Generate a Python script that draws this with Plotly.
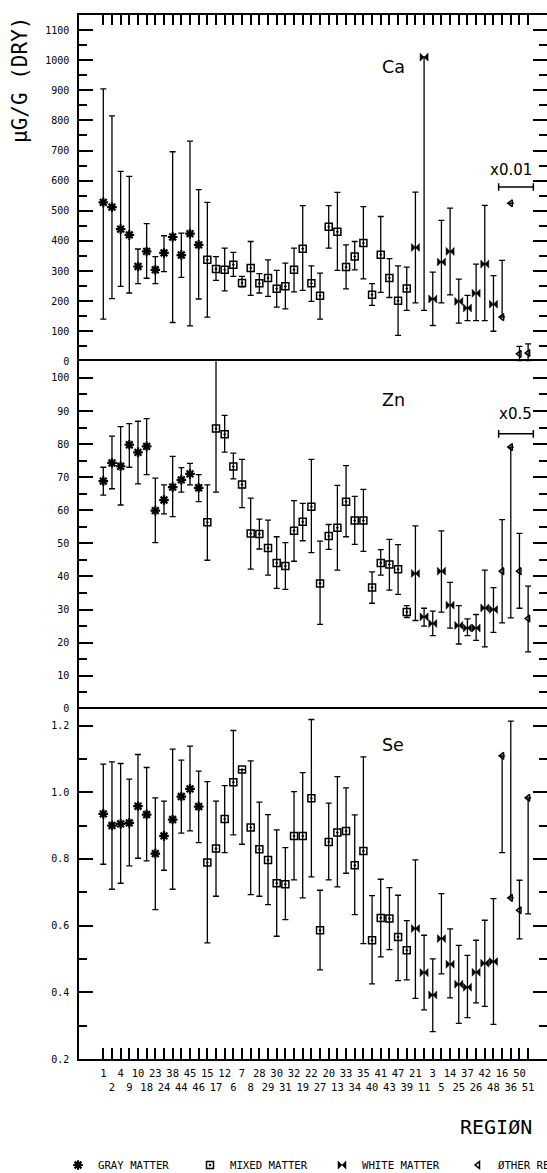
import plotly.graph_objects as go
from plotly.subplots import make_subplots

# ---------------- data ----------------
regions = [1, 2, 4, 9, 10, 18, 23, 24, 38, 44, 45, 46,
           15, 17, 12, 6, 7, 8, 28, 29, 30, 31, 32, 19, 22, 27, 20, 13, 33, 34, 35, 40, 41, 43, 47, 39,
           21, 11, 3, 5, 14, 25, 37, 26, 42, 48,
           16, 36, 50, 51]
group_names = ["GRAY MATTER", "MIXED MATTER", "WHITE MATTER", "ØTHER REGIØNS"]
group_sizes = [12, 24, 10, 4]

ca_val = [528, 512, 439, 420, 315, 365, 304, 360, 413, 353, 424, 387,
          337, 307, 304, 321, 260, 310, 259, 277, 241, 249, 304, 374, 259, 218, 447, 430, 313, 348, 393, 221, 354, 277, 201, 242,
          378, 1010, 207, 330, 365, 199, 177, 226, 323, 190,
          147, 525, 25, 28]
ca_lo = [140, 208, 249, 227, 258, 276, 258, 298, 129, 279, 118, 207,
         147, 269, 234, 282, 247, 219, 227, 216, 180, 174, 231, 236, 199, 140, 376, 302, 241, 304, 274, 186, 229, 212, 86, 169,
         194, 169, 119, 194, 221, 127, 135, 135, 135, 100,
         147, 525, 0, 0]
ca_hi = [905, 815, 631, 614, 373, 457, 348, 417, 696, 426, 731, 570,
         528, 348, 376, 362, 282, 398, 291, 337, 302, 326, 376, 517, 317, 293, 517, 561, 387, 398, 514, 258, 481, 341, 317, 313,
         562, 1010, 296, 468, 509, 273, 219, 323, 518, 285,
         335, 525, 50, 58]

zn_val = [68.8, 74.3, 73.3, 79.8, 77.5, 79.3, 59.9, 63.1, 67.0, 69.2, 71.0, 66.8,
          56.4, 84.7, 83.0, 73.2, 67.8, 53.0, 52.8, 48.6, 44.1, 43.2, 53.8, 56.5, 61.1, 37.9, 52.2, 54.7, 62.6, 56.9, 56.9, 36.7, 44.1, 43.6, 42.2, 29.3,
          40.9, 27.8, 25.8, 41.6, 31.3, 25.2, 24.4, 24.4, 30.5, 30.0,
          41.6, 79.1, 41.6, 27.3]
zn_lo = [64.6, 66.5, 61.6, 73.0, 68.0, 70.8, 50.2, 58.9, 58.1, 65.5, 67.7, 62.6,
         44.9, 65.5, 77.6, 69.5, 60.8, 42.2, 48.3, 40.4, 36.4, 36.1, 44.6, 50.8, 47.2, 25.5, 48.2, 41.9, 52.0, 49.7, 47.6, 31.9, 40.4, 35.9, 34.6, 27.6,
         26.7, 25.0, 22.1, 29.2, 24.4, 19.6, 22.1, 20.7, 18.7, 23.1,
         26.0, 27.5, 30.4, 17.2]
zn_hi = [73.0, 82.4, 85.3, 86.2, 86.9, 87.7, 69.7, 67.7, 76.3, 72.9, 74.2, 70.8,
         67.7, 106.0, 88.7, 77.3, 75.4, 63.7, 57.3, 57.0, 52.0, 50.2, 62.9, 62.1, 75.4, 50.7, 55.7, 67.5, 73.5, 64.2, 66.3, 41.4, 48.1, 51.2, 49.6, 31.2,
         55.3, 30.4, 29.5, 53.8, 38.2, 31.2, 27.2, 28.5, 41.9, 36.6,
         57.2, 79.1, 53.0, 37.1]

se_val = [0.935, 0.900, 0.905, 0.908, 0.958, 0.933, 0.816, 0.869, 0.918, 0.987, 1.010, 0.957,
          0.789, 0.831, 0.920, 1.030, 1.068, 0.894, 0.829, 0.797, 0.727, 0.724, 0.869, 0.869, 0.982, 0.586, 0.851, 0.879, 0.884, 0.781, 0.824, 0.556, 0.623, 0.621, 0.566, 0.526,
          0.591, 0.459, 0.392, 0.561, 0.484, 0.424, 0.415, 0.460, 0.487, 0.492,
          1.109, 0.683, 0.646, 0.983]
se_lo = [0.784, 0.709, 0.727, 0.779, 0.802, 0.794, 0.648, 0.766, 0.709, 0.877, 0.884, 0.849,
         0.548, 0.688, 0.819, 0.872, 0.844, 0.693, 0.688, 0.663, 0.568, 0.618, 0.737, 0.683, 0.746, 0.467, 0.737, 0.716, 0.757, 0.633, 0.546, 0.425, 0.506, 0.528, 0.435, 0.437,
         0.382, 0.347, 0.282, 0.455, 0.383, 0.307, 0.324, 0.368, 0.358, 0.304,
         0.819, 0.683, 0.560, 0.635]
se_hi = [1.084, 1.091, 1.086, 1.039, 1.113, 1.074, 0.983, 0.973, 1.129, 1.096, 1.138, 1.063,
         1.032, 0.973, 1.020, 1.185, 1.068, 1.094, 0.970, 0.933, 0.887, 0.834, 1.002, 1.059, 1.218, 0.706, 0.967, 1.047, 1.013, 0.932, 1.106, 0.690, 0.739, 0.714, 0.691, 0.615,
         0.797, 0.571, 0.500, 0.696, 0.590, 0.541, 0.511, 0.556, 0.616, 0.681,
         1.109, 1.213, 0.736, 0.983]

elements = ["Ca", "Zn", "Se"]
y_ranges = [[0, 1150], [0, 105], [0.2, 1.25]]
y_dticks = [100, 10, 0.2]
y_minor = [50, 5, 0.1]
y_formats = ["d", "d", ".1f"]

# scale-bar notes (element, label, bar value, label value)
scale_notes = [("Ca", "x0.01", 579, 637), ("Zn", "x0.5", 83.1, 89.0)]
label_values = [976, 93.4, 1.141]

# ---------------- styling ----------------
FONT = "DejaVu Sans Mono"
BLACK = "black"
symbols = {
    "GRAY MATTER": dict(symbol="asterisk-open", size=8, color=BLACK, line=dict(width=2.2, color=BLACK)),
    "MIXED MATTER": dict(symbol="square-open-dot", size=7, color=BLACK, line=dict(width=1.5, color=BLACK)),
    "WHITE MATTER": dict(symbol="bowtie", size=8, color=BLACK, line=dict(width=0.5, color=BLACK)),
    "ØTHER REGIØNS": dict(symbol="triangle-left-open", size=6, color=BLACK, line=dict(width=1.5, color=BLACK)),
}
legend_of = {"GRAY MATTER": "legend", "MIXED MATTER": "legend",
             "WHITE MATTER": "legend", "ØTHER REGIØNS": "legend2"}

W, H = 547, 1173
ML, MT, MB = 79, 15, 114
PW, PH = W - ML, H - MT - MB
xcats = [str(r) for r in regions]
STEP_FIRST = 103.3
STEP = 8.67
x_range = [(ML - STEP_FIRST) / STEP, (W - STEP_FIRST) / STEP]

fig = make_subplots(rows=3, cols=1, shared_xaxes=True, vertical_spacing=0,
                    row_heights=[346.2, 347.3, 350])

series = [(ca_val, ca_lo, ca_hi), (zn_val, zn_lo, zn_hi), (se_val, se_lo, se_hi)]

for row, (vals, los, his) in enumerate(series, start=1):
    start = 0
    for gname, gsize in zip(group_names, group_sizes):
        sl = slice(start, start + gsize)
        start += gsize
        v = vals[sl]
        up = [h - a for h, a in zip(his[sl], v)]
        dn = [a - l for a, l in zip(v, los[sl])]
        fig.add_trace(go.Scatter(
            x=xcats[sl], y=v, mode="markers", name=gname,
            legendgroup=gname, showlegend=(row == 1), legend=legend_of[gname],
            marker=symbols[gname],
            error_y=dict(type="data", symmetric=False, array=up, arrayminus=dn,
                         color=BLACK, thickness=1.3, width=3),
        ), row=row, col=1)

# y axes
for i in range(3):
    fig.update_yaxes(
        range=y_ranges[i], dtick=y_dticks[i], tick0=y_ranges[i][0] if i == 2 else 0,
        tickformat=y_formats[i],
        showline=True, linecolor=BLACK, linewidth=1.5, mirror="ticks",
        ticks="inside", ticklen=14, tickwidth=1.5, tickcolor=BLACK,
        minor=dict(ticks="inside", ticklen=8, dtick=y_minor[i], tickwidth=1.5, tickcolor=BLACK),
        showgrid=False, zeroline=False,
        tickfont=dict(family=FONT, size=10, color=BLACK),
        ticklabelstandoff=6,
        row=i + 1, col=1)

tick_text = [s if k % 2 == 0 else "<br>" + s for k, s in enumerate(xcats)]
common_x = dict(type="category", categoryorder="array", categoryarray=xcats,
                range=x_range, showgrid=False, zeroline=False,
                showline=True, linecolor=BLACK, linewidth=1.5)
fig.update_xaxes(**common_x)
fig.update_xaxes(side="top", ticks="inside", ticklen=10, tickwidth=1.5, tickcolor=BLACK,
                 tickvals=xcats, showticklabels=False, row=1, col=1)
fig.update_xaxes(side="top", ticks="", showticklabels=False, row=2, col=1)
fig.update_xaxes(side="bottom", mirror=True, ticks="inside", ticklen=11, tickwidth=1.5,
                 tickcolor=BLACK, tickvals=xcats, ticktext=tick_text, tickangle=0,
                 showticklabels=True, ticklabelstandoff=4,
                 tickfont=dict(family=FONT, size=10.5, color=BLACK), row=3, col=1)

# element labels
for i, (el, lv) in enumerate(zip(elements, label_values)):
    xr = "x" if i == 0 else f"x{i+1}"
    yr = "y" if i == 0 else f"y{i+1}"
    fig.add_annotation(x=33.45, y=lv, xref=xr, yref=yr, text=el, showarrow=False,
                       font=dict(family="DejaVu Sans", size=17.5, color=BLACK))

# scale bars
BAR_X0, BAR_X1 = 45.6, 49.6
for el, txt, barv, txtv in scale_notes:
    i = elements.index(el)
    xr = "x" if i == 0 else f"x{i+1}"
    yr = "y" if i == 0 else f"y{i+1}"
    cap = (y_ranges[i][1] - y_ranges[i][0]) * 0.011
    fig.add_shape(type="line", xref=xr, yref=yr, x0=BAR_X0, x1=BAR_X1, y0=barv, y1=barv,
                  line=dict(color=BLACK, width=1.5))
    for bx in (BAR_X0, BAR_X1):
        fig.add_shape(type="line", xref=xr, yref=yr, x0=bx, x1=bx, y0=barv - cap, y1=barv + cap,
                      line=dict(color=BLACK, width=1.5))
    fig.add_annotation(x=47.0 if el == "Ca" else 47.5, y=txtv, xref=xr, yref=yr, text=txt,
                       showarrow=False, font=dict(family="DejaVu Sans", size=15, color=BLACK))

# axis titles
fig.add_annotation(x=(20 - ML) / PW, y=1 - (80 - MT) / PH, xref="paper", yref="paper",
                   text="µG/G (DRY)", textangle=-90, showarrow=False,
                   xanchor="center", yanchor="middle",
                   font=dict(family=FONT, size=21, color=BLACK))
fig.add_annotation(x=(496 - ML) / PW, y=-(1127 - (H - MB)) / PH, xref="paper", yref="paper",
                   text="REGIØN", showarrow=False, xanchor="center", yanchor="middle",
                   font=dict(family=FONT, size=20, color=BLACK))

LEG_Y = -(1165 - (H - MB)) / PH
leg_common = dict(orientation="h", xanchor="left", yanchor="middle", y=LEG_Y,
                  entrywidthmode="pixels",
                  font=dict(family=FONT, size=10.7, color=BLACK),
                  bgcolor="rgba(0,0,0,0)", itemsizing="trace")
fig.update_layout(
    width=W, height=H,
    margin=dict(l=ML, r=0, t=MT, b=MB, autoexpand=False),
    paper_bgcolor="white", plot_bgcolor="white",
    showlegend=True,
    legend=dict(x=(58 - ML) / PW, entrywidth=87, **leg_common),
    legend2=dict(x=(458 - ML) / PW, entrywidth=49, **leg_common),
)

fig.write_html("out.html")
